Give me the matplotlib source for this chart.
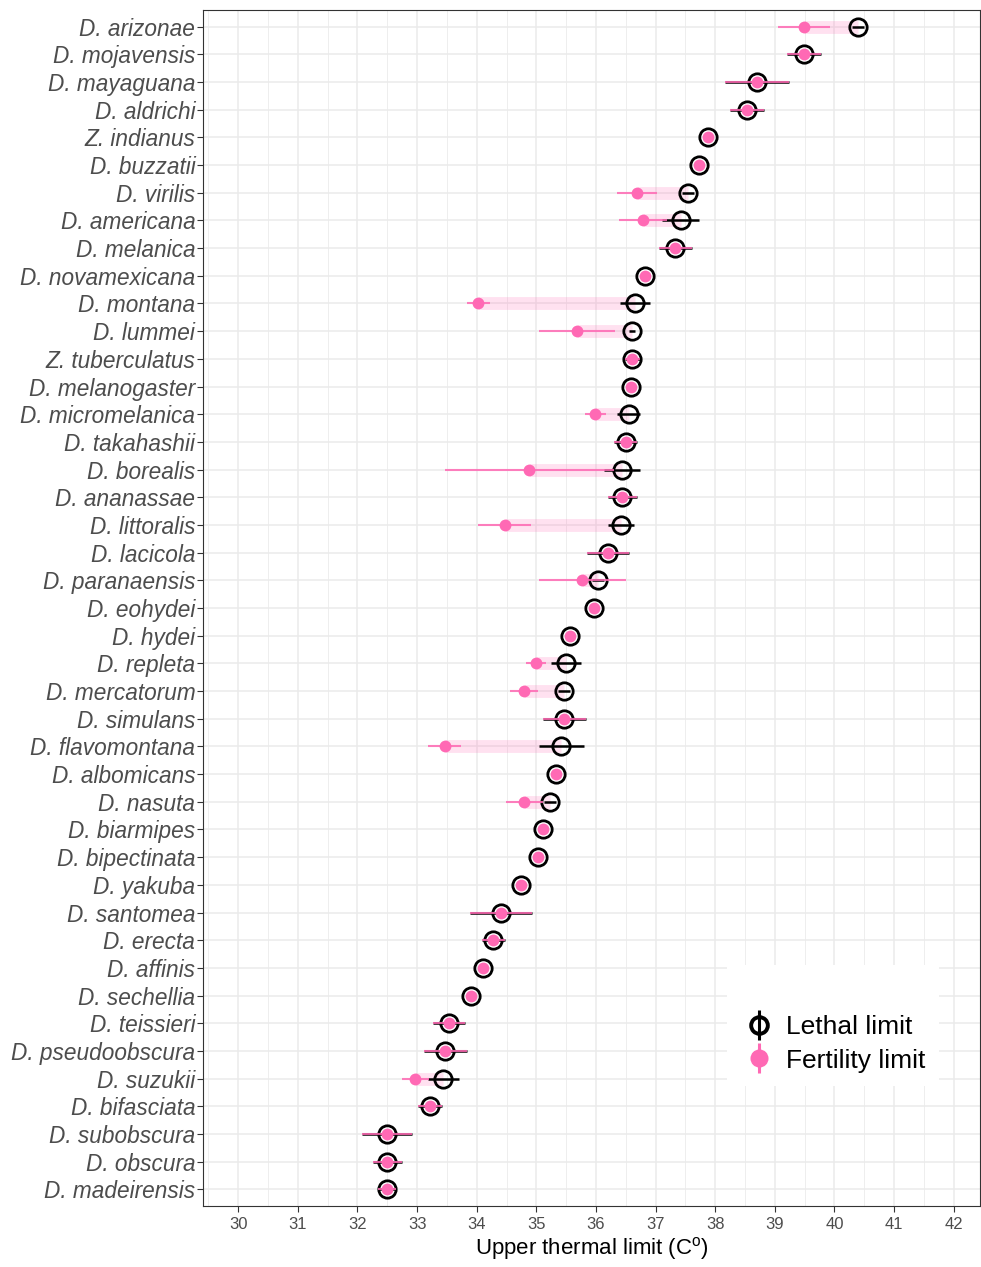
import numpy as np
import matplotlib
matplotlib.use("Agg")
import matplotlib.pyplot as plt
from matplotlib.lines import Line2D
from matplotlib.legend_handler import HandlerTuple

plt.rcParams['font.family'] = ['Liberation Sans', 'DejaVu Sans']
plt.rcParams['mathtext.fontset'] = 'custom'
plt.rcParams['mathtext.rm'] = 'Liberation Sans'

# species listed top to bottom
species = [
    "D. arizonae", "D. mojavensis", "D. mayaguana", "D. aldrichi", "Z. indianus",
    "D. buzzatii", "D. virilis", "D. americana", "D. melanica", "D. novamexicana",
    "D. montana", "D. lummei", "Z. tuberculatus", "D. melanogaster", "D. micromelanica",
    "D. takahashii", "D. borealis", "D. ananassae", "D. littoralis", "D. lacicola",
    "D. paranaensis", "D. eohydei", "D. hydei", "D. repleta", "D. mercatorum",
    "D. simulans", "D. flavomontana", "D. albomicans", "D. nasuta", "D. biarmipes",
    "D. bipectinata", "D. yakuba", "D. santomea", "D. erecta", "D. affinis",
    "D. sechellia", "D. teissieri", "D. pseudoobscura", "D. suzukii", "D. bifasciata",
    "D. subobscura", "D. obscura", "D. madeirensis",
]

lethal = [40.40, 39.49, 38.70, 38.53, 37.88, 37.72, 37.55, 37.42, 37.33, 36.82,
          36.66, 36.60, 36.61, 36.58, 36.55, 36.50, 36.44, 36.44, 36.42, 36.20,
          36.03, 35.96, 35.56, 35.50, 35.47, 35.47, 35.42, 35.33, 35.23, 35.12,
          35.02, 34.74, 34.41, 34.28, 34.11, 33.90, 33.54, 33.47, 33.44, 33.22,
          32.50, 32.50, 32.49]
lethal_se = [0.10, 0.28, 0.54, 0.28, 0.05, 0.05, 0.10, 0.31, 0.28, 0.05,
             0.25, 0.05, 0.13, 0.05, 0.19, 0.19, 0.30, 0.24, 0.21, 0.35,
             0.10, 0.05, 0.05, 0.25, 0.10, 0.36, 0.38, 0.05, 0.10, 0.05,
             0.05, 0.05, 0.52, 0.19, 0.05, 0.05, 0.27, 0.36, 0.26, 0.20,
             0.42, 0.24, 0.15]

fertility = [39.49, 39.49, 38.70, 38.53, 37.88, 37.72, 36.69, 36.79, 37.33, 36.82,
             34.03, 35.68, 36.61, 36.58, 35.99, 36.50, 34.88, 36.44, 34.47, 36.20,
             35.77, 35.96, 35.56, 35.00, 34.79, 35.47, 33.46, 35.33, 34.80, 35.12,
             35.02, 34.74, 34.41, 34.28, 34.11, 33.90, 33.54, 33.47, 32.97, 33.22,
             32.50, 32.50, 32.49]
fertility_se = [0.43, 0.28, 0.54, 0.28, 0.05, 0.05, 0.33, 0.40, 0.28, 0.05,
                0.19, 0.64, 0.13, 0.05, 0.17, 0.19, 1.42, 0.24, 0.44, 0.35,
                0.73, 0.05, 0.05, 0.17, 0.23, 0.36, 0.27, 0.05, 0.31, 0.05,
                0.05, 0.05, 0.52, 0.19, 0.05, 0.05, 0.27, 0.36, 0.23, 0.20,
                0.42, 0.24, 0.15]

x_ticks = list(range(30, 43))

PINK = '#FF69B4'
GREY30 = '#4D4D4D'

n = len(species)
y = np.arange(n, 0, -1)

fig = plt.figure(figsize=(9.81, 12.67), dpi=100)
ax = fig.add_axes([203 / 981, 1 - 1206 / 1267, (980 - 203) / 981, (1206 - 10) / 1267])

# gap band between fertility and lethal limit
ax.hlines(y, fertility, lethal, color=PINK, alpha=0.2, lw=9.2, capstyle='butt', zorder=2)

# lethal limit
ax.errorbar(lethal, y, xerr=lethal_se, fmt='none', ecolor='black', elinewidth=1.8,
            capsize=0, zorder=3)
ax.plot(lethal, y, 'o', mfc='none', mec='black', ms=12.5, mew=2.0, ls='none', zorder=4)

# fertility limit
ax.errorbar(fertility, y, xerr=fertility_se, fmt='none', ecolor=PINK, elinewidth=1.5,
            alpha=0.85, capsize=0, zorder=5)
ax.plot(fertility, y, 'o', color=PINK, mec='none', ms=8.5, ls='none', zorder=6)

ax.set_xlim(29.41, 42.44)
ax.set_ylim(0.4, n + 0.6)
ax.set_xticks(x_ticks)
ax.set_xticks(np.arange(29.5, 42.5, 1.0), minor=True)
ax.set_yticks(y)
ax.set_yticklabels(species, style='italic')

ax.grid(which='major', color='#EBEBEB', lw=1.1)
ax.grid(which='minor', axis='x', color='#EBEBEB', lw=0.6)
ax.set_axisbelow(True)

ax.tick_params(axis='y', labelsize=16.3, labelcolor=GREY30, color='#333333',
               length=4, width=0.8, pad=1.5)
ax.tick_params(axis='x', labelsize=12, labelcolor=GREY30, color='#333333',
               length=4, width=0.8, pad=4)
ax.tick_params(which='minor', length=0)
for s in ax.spines.values():
    s.set_color('#333333')
    s.set_linewidth(0.8)

ax.set_xlabel(r'Upper thermal limit (C$^\mathrm{o}$)', fontsize=16, labelpad=2)

leth_h = (Line2D([], [], marker='|', ms=21, mew=2.2, color='black', ls='none'),
          Line2D([], [], marker='o', ms=12, mfc='none', mec='black', mew=2.8, ls='none'))
fert_h = (Line2D([], [], marker='|', ms=21, mew=2.2, color=PINK, ls='none'),
          Line2D([], [], marker='o', ms=13, color=PINK, mec='none', ls='none'))
leg = ax.legend([leth_h, fert_h], ['Lethal limit', 'Fertility limit'],
                handler_map={tuple: HandlerTuple(ndivide=1)},
                loc='upper left', bbox_to_anchor=(727 / 981, 1 - 965 / 1267),
                bbox_transform=fig.transFigure, fontsize=19, title=' ', title_fontsize=21,
                frameon=True, fancybox=False, edgecolor='none', facecolor='white',
                framealpha=1, handlelength=1.4, handletextpad=0.35, labelspacing=0.35,
                borderpad=0.5, borderaxespad=0)

fig.savefig('out.png', dpi=100)
